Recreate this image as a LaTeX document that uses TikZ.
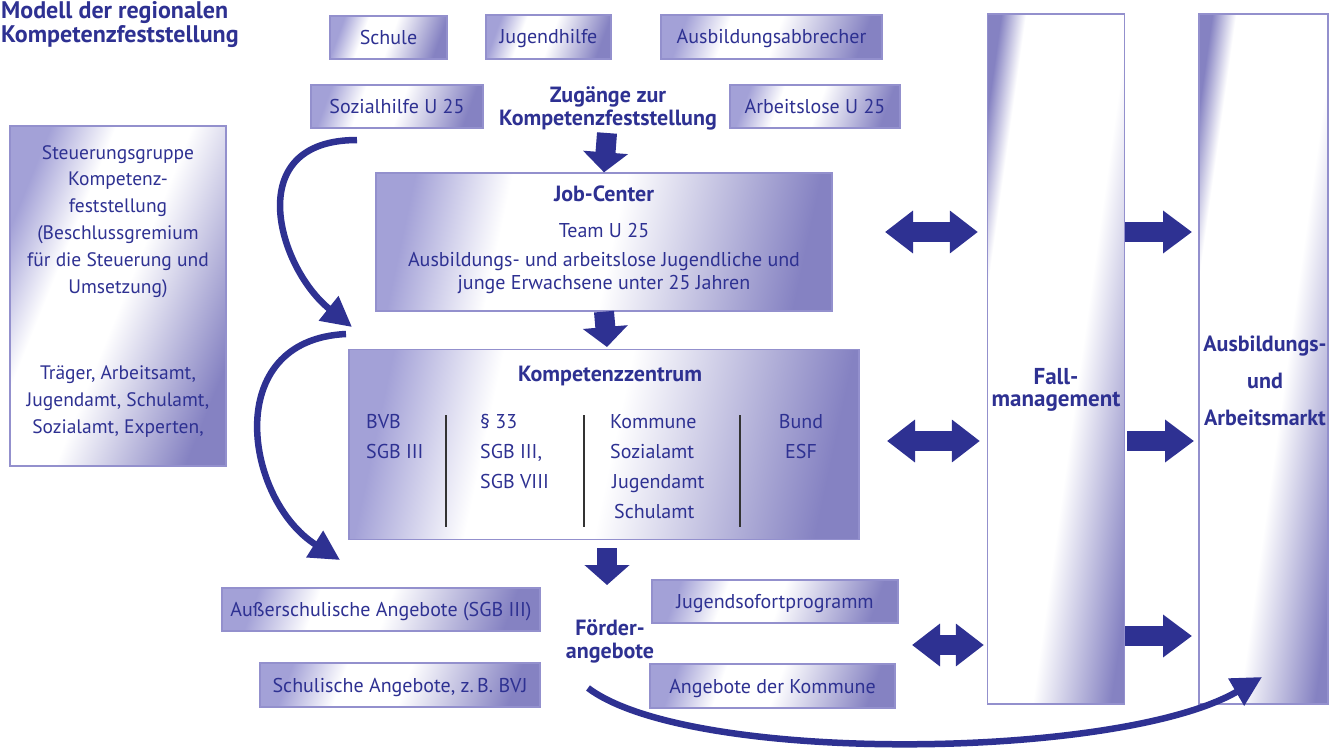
\documentclass[tikz,border=0pt]{standalone}
\usepackage{fontspec}
\setmainfont{PT Sans}
\usetikzlibrary{arrows.meta}
\definecolor{navy}{HTML}{2E3192}
\definecolor{lavb}{HTML}{9390CD}
\definecolor{lavd}{HTML}{8582C2}
\definecolor{lavl}{HTML}{A3A1D7}
\pgfdeclarehorizontalshading{boxsh}{100bp}{color(0bp)=(lavl); color(25bp)=(lavl); color(37bp)=(white); color(51bp)=(white); color(75bp)=(lavd); color(100bp)=(lavd)}
\pgfdeclarehorizontalshading{colsh}{100bp}{color(0bp)=(lavd); color(25bp)=(lavd); color(31bp)=(white); color(56bp)=(white); color(75bp)=(lavd); color(100bp)=(lavd)}
\tikzset{
  box/.style={draw=lavb, line width=1.3pt, shading=boxsh, shading angle=-20, text=navy,
    font=\fontsize{20}{27}\selectfont, inner sep=0pt, text height=18pt, text depth=4pt},
  bigbox/.style={draw=lavb, line width=1.3pt, shading=boxsh, shading angle=-12, inner sep=0pt},
  colbox/.style={draw=lavb, line width=1.3pt, shading=colsh, shading angle=-8, inner sep=0pt},
  txt/.style={text=navy, font=\fontsize{20}{27}\selectfont, inner sep=0pt, align=center},
  btxt/.style={text=navy, font=\bfseries\fontsize{22}{23}\selectfont, inner sep=0pt, align=center},
  ctxt/.style={text=navy, font=\bfseries\fontsize{23}{22}\selectfont, inner sep=0pt, align=center},
  blk/.style={navy, line width=20pt, -{Triangle[length=20pt,width=44pt]}},
  dblk/.style={navy, line width=20pt, {Triangle[length=28pt,width=41pt]}-{Triangle[length=28pt,width=41pt]}},
  rblk/.style={navy, line width=20pt, -{Triangle[length=29pt,width=41pt]}},
  curv/.style={navy, line width=6.5pt, -{Triangle[length=30pt,width=30pt]}},
  sep/.style={black!80, line width=2.2pt}
}
\begin{document}
\begin{tikzpicture}[x=1pt,y=-1pt]
\useasboundingbox (0,0) rectangle (1329,752);
% title
\node[text=navy, font=\bfseries\fontsize{24}{24.5}\selectfont, inner sep=0pt, align=left, anchor=north west] (title) at (1,1) {Modell der regionalen\\Kompetenzfeststellung};
% access boxes
\node[box, minimum width=117, minimum height=43] (schule) at (388.5,37.5) {Schule};
\node[box, minimum width=125, minimum height=44] (jugendhilfe) at (548.5,37) {Jugendhilfe};
\node[box, minimum width=221, minimum height=44] (abbrecher) at (771.5,37) {Ausbildungsabbrecher};
\node[box, minimum width=172, minimum height=43] (sozial) at (397,106.5) {Sozialhilfe U 25};
\node[box, minimum width=170, minimum height=43] (arbeitslose) at (815,106.5) {Arbeitslose U 25};
\node[btxt, anchor=north] (zugang) at (608,86) {Zugänge zur\\Kompetenzfeststellung};
% job center
\node[bigbox, minimum width=456, minimum height=138] (job) at (604,242) {};
\node[btxt, anchor=base] (jobt) at (604,201) {Job-Center};
\node[txt, anchor=north] (jobx) at (604,223) {Team U 25\\[2pt]Ausbildungs- und arbeitslose Jugendliche und\\[-4pt]junge Erwachsene unter 25 Jahren};
% Kompetenzzentrum
\node[bigbox, minimum width=510, minimum height=190] (kz) at (604,444.5) {};
\node[btxt, anchor=base] (kzt) at (610,381) {Kompetenzzentrum};
\node[txt, align=left, anchor=north west, font=\fontsize{20}{30}\selectfont] (bvb) at (366,414) {BVB\\SGB III};
\node[txt, align=left, anchor=north west, font=\fontsize{20}{30}\selectfont] (p33) at (480,414) {§ 33\\SGB III,\\SGB VIII};
\node[txt, align=left, anchor=north west, font=\fontsize{20}{30}\selectfont] (kom) at (610,414) {Kommune\\Sozialamt\\\hspace*{2pt}Jugendamt\\\hspace*{4pt}Schulamt};
\node[txt, anchor=north, font=\fontsize{20}{30}\selectfont] (bund) at (801,414) {Bund\\ESF};
\coordinate (s1t) at (446,415); \coordinate (s1b) at (446,527);
\coordinate (s2t) at (584,415); \coordinate (s2b) at (584,527);
\coordinate (s3t) at (740,415); \coordinate (s3b) at (740,527);
\draw[sep] (s1t) -- (s1b);
\draw[sep] (s2t) -- (s2b);
\draw[sep] (s3t) -- (s3b);
% Foerderangebote
\node[btxt, anchor=north] (foerder) at (610,619) {Förder-\\angebote};
\node[box, minimum width=318, minimum height=43] (ausser) at (381,609.5) {Außerschulische Angebote (SGB III)};
\node[box, minimum width=280, minimum height=44] (schulisch) at (400,685) {Schulische Angebote, z.\,B. BVJ};
\node[box, minimum width=246, minimum height=43] (sofort) at (775,601.5) {Jugendsofortprogramm};
\node[box, minimum width=245, minimum height=44] (kommune) at (772.5,686) {Angebote der Kommune};
% left panel
\node[bigbox, shading angle=-22, minimum width=216, minimum height=340] (steuer) at (118,296) {};
\node[txt, anchor=north, font=\fontsize{19.5}{26.8}\selectfont] (steuert) at (118,145) {Steuerungsgruppe\\Kompetenz-\\feststellung\\(Beschlussgremium\\für die Steuerung und\\Umsetzung)};
\node[txt, anchor=north, font=\fontsize{19.5}{27}\selectfont] (traeger) at (118,365) {Träger, Arbeitsamt,\\Jugendamt, Schulamt,\\Sozialamt, Experten,};
% columns
\node[colbox, minimum width=137, minimum height=690] (fall) at (1056,359) {};
\node[ctxt, anchor=north] (fallt) at (1056,368) {Fall-\\management};
\node[colbox, minimum width=129, minimum height=690] (markt) at (1263.5,359) {};
\node[ctxt, anchor=north, font=\bfseries\fontsize{22}{37}\selectfont] (marktt) at (1265,336) {Ausbildungs-\\und\\Arbeitsmarkt};
% block arrows down
\coordinate (a1s) at (607,133); \coordinate (a1e) at (607,172);
\draw[blk] (a1s) -- (job.north);
\coordinate (a2s) at (607,312); \coordinate (a2e) at (607,347);
\draw[blk] (job.south) -- (a2e);
\coordinate (a3s) at (607,548); \coordinate (a3e) at (607,585);
\draw[blk] (a3s) -- (a3e);
% double arrows
\coordinate (d1) at (885,232); \coordinate (d2) at (887,441); \coordinate (d3) at (912,645);
\draw[dblk] (d1) -- ([xshift=-9]fall.west |- d1);
\draw[dblk] (d2) -- ([xshift=-7]fall.west |- d2);
\draw[dblk] (d3) -- ([xshift=-3]fall.west |- d3);
% right arrows
\coordinate (r1) at (1192,232); \coordinate (r2) at (1194,441); \coordinate (r3) at (1192,636);
\draw[rblk] (fall.east |- r1) -- (r1);
\draw[rblk] ([xshift=2]fall.east |- r2) -- (r2);
\draw[rblk] (fall.east |- r3) -- (r3);
% curved arrows
\coordinate (c1s) at (357,140); \coordinate (c1e) at (352,327);
\draw[curv] (c1s) .. controls (240,140) and (278,268) .. (c1e);
\coordinate (c2s) at (346,334); \coordinate (c2e) at (340,560);
\draw[curv] (c2s) .. controls (220,340) and (245,500) .. (c2e);
\coordinate (c3s) at (588,688); \coordinate (c3e) at (1262,677);
\draw[curv] (c3s) .. controls (690,765) and (1120,760) .. (c3e);
\end{tikzpicture}
\end{document}
